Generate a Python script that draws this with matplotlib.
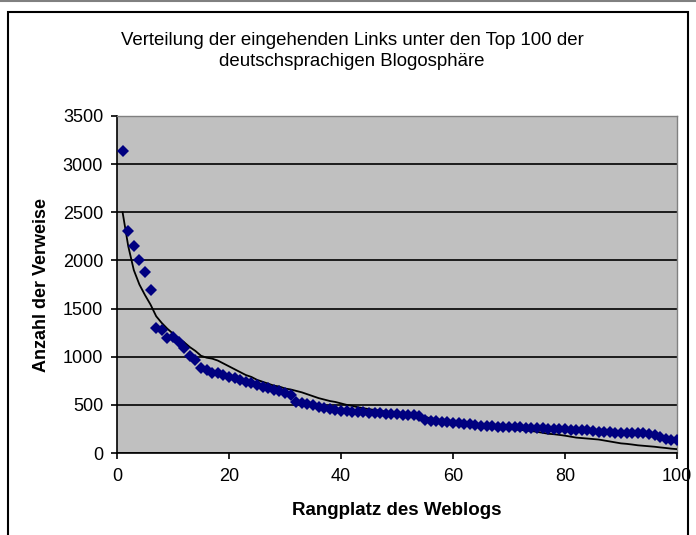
import matplotlib
matplotlib.use("Agg")
import matplotlib.pyplot as plt
from matplotlib.patches import Rectangle

plt.rcParams['font.family'] = ['Liberation Sans', 'DejaVu Sans']

rank = list(range(1, 101))
links = [3140, 2310, 2150, 2000, 1880, 1690, 1300, 1280, 1190, 1200,
         1150, 1090, 1010, 970, 880, 860, 830, 830, 810, 790,
         775, 760, 740, 725, 710, 690, 670, 655, 640, 625,
         605, 530, 520, 505, 495, 480, 470, 460, 450, 440,
         435, 430, 425, 425, 420, 420, 415, 410, 405, 400,
         395, 390, 390, 385, 340, 335, 330, 325, 320, 315,
         310, 305, 300, 290, 285, 280, 278, 275, 272, 270,
         268, 265, 262, 260, 258, 255, 252, 250, 248, 245,
         242, 240, 238, 235, 225, 222, 218, 215, 212, 210,
         208, 206, 205, 204, 200, 185, 165, 150, 135, 130]
reference = [2500, 2150, 1900, 1750, 1640, 1540, 1420, 1350, 1290, 1240,
             1190, 1150, 1100, 1060, 1010, 990, 980, 960, 930, 900,
             870, 840, 810, 790, 760, 740, 720, 700, 690, 670,
             660, 645, 630, 610, 590, 570, 555, 540, 530, 515,
             500, 490, 475, 465, 455, 447, 440, 430, 420, 415,
             410, 405, 400, 395, 375, 360, 350, 340, 330, 320,
             305, 300, 295, 290, 285, 278, 270, 262, 255, 250,
             245, 240, 235, 228, 220, 210, 200, 195, 188, 180,
             170, 160, 155, 150, 145, 140, 130, 120, 110, 100,
             95, 88, 80, 75, 70, 65, 58, 52, 45, 40]

title = "Verteilung der eingehenden Links unter den Top 100 der\ndeutschsprachigen Blogosphäre"
xlabel = "Rangplatz des Weblogs"
ylabel = "Anzahl der Verweise"

fig = plt.figure(figsize=(6.96, 5.35), dpi=100)
fig.patches.append(Rectangle((8/696, -0.05), 680/696, (535-12)/535 + 0.05,
                             transform=fig.transFigure, fill=False,
                             edgecolor='black', linewidth=1.5))
fig.add_artist(plt.Line2D([0, 1], [0.999, 0.999], color='#808080', linewidth=1.5,
                          transform=fig.transFigure))

ax = fig.add_axes([117/696, 82/535, 560/696, 337/535])
ax.set_facecolor('#C0C0C0')
ax.set_xlim(0, 100)
ax.set_ylim(0, 3500)
ax.set_xticks(range(0, 101, 20))
ax.set_yticks(range(0, 3501, 500))
ax.yaxis.grid(True, color='black', linewidth=1.2)
ax.set_axisbelow(True)

ax.plot(rank, reference, color='black', linewidth=1.3, zorder=3)
ax.plot(rank, links, linestyle='none', marker='D', markersize=6.3,
        color='#000080', markeredgewidth=0, zorder=4)

for s in ['top', 'right']:
    ax.spines[s].set_color('#808080')
    ax.spines[s].set_linewidth(1)
for s in ['left', 'bottom']:
    ax.spines[s].set_color('black')
    ax.spines[s].set_linewidth(1.2)

ax.tick_params(axis='both', direction='out', length=4, width=1.2,
               labelsize=13, colors='black')
ax.tick_params(axis='y', pad=6)
ax.tick_params(axis='x', pad=7)

ax.set_xlabel(xlabel, fontsize=13.5, fontweight='bold')
ax.set_ylabel(ylabel, fontsize=13, fontweight='bold')
ax.xaxis.set_label_coords(0.5, (453 - 502) / 337)
ax.yaxis.set_label_coords((50 - 117) / 560, 0.5)
fig.text(352/696, 1 - 51/535, title, ha='center', va='center',
         fontsize=13.4, linespacing=1.25)

fig.savefig('out.png', dpi=100)
